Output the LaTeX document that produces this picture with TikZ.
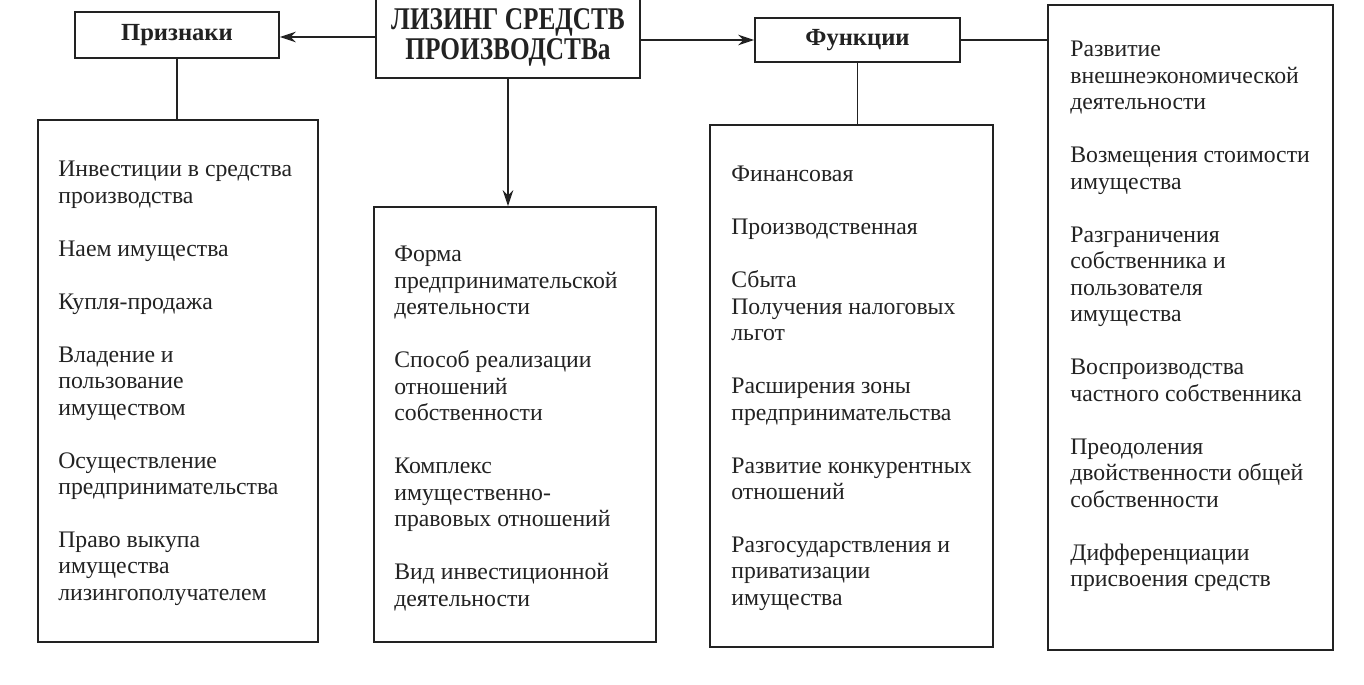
\documentclass[tikz,border=0pt]{standalone}
\usepackage{fontspec}
\setmainfont{Liberation Serif}
\newfontfamily\headfont[FakeStretch=0.8]{Liberation Serif}
\usetikzlibrary{arrows.meta,positioning}
\definecolor{vink}{HTML}{222222}
\tikzset{
  frame/.style={draw=vink,line width=1.1pt,fill=white,inner sep=0pt},
  head/.style={frame,font=\bfseries\fontsize{14}{14}\selectfont,text=vink},
  lst/.style={anchor=north west,align=left,inner sep=0pt,text=vink,font=\fontsize{13.5}{15.1}\selectfont},
  arr/.style={-{Stealth[length=9pt,width=6pt]},line width=1pt,draw=vink},
  ln/.style={line width=1pt,draw=vink},
}
\begin{document}
\begin{tikzpicture}[x=0.02cm,y=-0.02cm]
  \useasboundingbox (0,0) rectangle (1364,684);
  % top row
  \node[head,minimum width=5.28cm,minimum height=1.64cm,align=center,
        font=\headfont\bfseries\fontsize{18}{17}\selectfont] (lz) at (508,37) {ЛИЗИНГ СРЕДСТВ\\ПРОИЗВОДСТВа};
  \node[head,minimum width=4.08cm,minimum height=0.92cm] (pr) at (177,35) {Признаки};
  \node[head,minimum width=4.1cm,minimum height=0.88cm] (fn) at (857.5,40) {Функции};
  % frames
  \node[frame,minimum width=5.6cm,minimum height=10.44cm] (sig) at (178,381) {};
  \node[frame,minimum width=5.64cm,minimum height=8.7cm] (frm) at (515,424.5) {};
  \node[frame,minimum width=5.66cm,minimum height=10.44cm] (fun) at (851.5,386) {};
  \node[frame,minimum width=5.7cm,minimum height=12.9cm] (razv) at (1190.5,327.5) {};
  % connectors
  \draw[arr] (lz.west) -- (lz.west -| pr.east);
  \draw[arr] (fn.west -| lz.east) -- (fn.west);
  \draw[arr] (lz.south) -- (lz.south |- frm.north);
  \draw[ln] (pr.south) -- (pr.south |- sig.north);
  \draw[ln] (fn.south) -- (fn.south |- fun.north);
  \draw[ln] (fn.east) -- (fn.east -| razv.west);
  % texts
  \node[lst] (t1) at (58,161) {Инвестиции в средства\\производства\\[15pt]
    Наем имущества\\[15pt]Купля-продажа\\[15pt]
    Владение и\\пользование\\имуществом\\[15pt]
    Осуществление\\предпринимательства\\[15pt]
    Право выкупа\\имущества\\лизингополучателем};
  \node[lst] (t2) at (394,246) {Форма\\предпринимательской\\деятельности\\[15pt]
    Способ реализации\\отношений\\собственности\\[15pt]
    Комплекс\\имущественно-\\правовых отношений\\[15pt]
    Вид инвестиционной\\деятельности};
  \node[lst] (t3) at (731,166) {Финансовая\\[15pt]Производственная\\[15pt]
    Сбыта\\Получения налоговых\\льгот\\[15pt]
    Расширения зоны\\предпринимательства\\[15pt]
    Развитие конкурентных\\отношений\\[15pt]
    Разгосударствления и\\приватизации\\имущества};
  \node[lst] (t4) at (1070,41) {Развитие\\внешнеэкономической\\деятельности\\[15pt]
    Возмещения стоимости\\имущества\\[15pt]
    Разграничения\\собственника и\\пользователя\\имущества\\[15pt]
    Воспроизводства\\частного собственника\\[15pt]
    Преодоления\\двойственности общей\\собственности\\[15pt]
    Дифференциации\\присвоения средств};
\end{tikzpicture}
\end{document}
